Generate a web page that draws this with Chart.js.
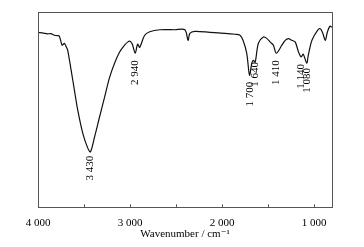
<!DOCTYPE html>
<html>
<head>
<meta charset="utf-8">
<script src="https://cdn.jsdelivr.net/npm/chart.js@4.4.0/dist/chart.umd.min.js"></script>
<style>
  html, body { margin: 0; padding: 0; background: #fff; }
  #wrap { width: 364px; height: 247px; }
</style>
</head>
<body>
<div id="wrap"><canvas id="myChart"></canvas></div>
<script>
// widmo IR
const wavenumbers = [4000, 3940, 3899, 3860, 3822, 3790, 3768, 3738, 3713, 3691, 3677, 3640, 3604, 3568, 3514, 3459, 3430, 3386, 3332, 3277, 3222, 3168, 3113, 3059, 3023, 3000, 2975, 2944, 2917, 2895, 2841, 2786, 2677, 2513, 2404, 2369, 2350, 2296, 2132, 1968, 1859, 1805, 1772, 1732, 1701, 1677, 1660, 1640, 1605, 1551, 1514, 1478, 1442, 1410, 1350, 1314, 1278, 1241, 1205, 1169, 1140, 1118, 1080, 1063, 1023, 962, 932, 905, 878, 856, 827, 805];
const transmittance = [89.6, 89.2, 88.8, 88.9, 88.1, 87.9, 87.6, 83.0, 84.0, 81.9, 80.4, 70.2, 59.9, 49.7, 38.0, 30.3, 28.4, 35.9, 46.1, 56.3, 66.5, 73.8, 79.5, 83.0, 84.7, 85.0, 83.5, 78.9, 83.5, 81.9, 88.1, 89.9, 90.9, 90.9, 90.9, 85.5, 89.1, 90.1, 89.6, 89.1, 88.6, 88.1, 85.5, 78.9, 67.6, 73.7, 75.3, 74.3, 84.0, 87.2, 86.5, 84.7, 83.0, 78.9, 83.0, 85.5, 86.4, 85.5, 84.7, 79.5, 77.0, 78.4, 73.8, 77.8, 85.5, 90.6, 91.4, 89.1, 85.5, 89.6, 92.7, 92.2];
const peakLabels = ['3 430', '2 940', '1 700', '1 640', '1 410', '1 140', '1 080'];
const peakPositions = [3430, 2940, 1700, 1640, 1410, 1140, 1080];
const peakLabelLevels = [20, 69, 58, 68, 69, 67, 65];
const tickValues = [1000, 1500, 2000, 2500, 3000, 3500, 4000];

const serif = '"Liberation Serif", "DejaVu Serif", serif';

// ramka, wewnętrzne kreski osi i opisy pików
const decorations = {
  id: 'decorations',
  afterDatasetsDraw(chart) {
    const ctx = chart.ctx;
    const a = chart.chartArea;
    const xs = chart.scales.x;
    const ys = chart.scales.y;
    ctx.save();
    ctx.strokeStyle = '#555';
    ctx.lineWidth = 1;
    ctx.strokeRect(Math.round(a.left) + 0.5, Math.round(a.top) + 0.5, Math.round(a.right - a.left), Math.round(a.bottom - a.top));
    tickValues.forEach(v => {
      const px = Math.round(xs.getPixelForValue(v)) + 0.5;
      ctx.beginPath();
      ctx.moveTo(px, a.bottom);
      ctx.lineTo(px, a.bottom - 3);
      ctx.stroke();
    });
    ctx.fillStyle = '#000';
    ctx.font = '11px ' + serif;
    ctx.textAlign = 'center';
    ctx.textBaseline = 'middle';
    peakLabels.forEach((t, i) => {
      const px = xs.getPixelForValue(peakPositions[i]);
      const py = ys.getPixelForValue(peakLabelLevels[i]);
      ctx.save();
      ctx.translate(px, py);
      ctx.rotate(-Math.PI / 2);
      ctx.fillText(t, 0, 0);
      ctx.restore();
    });
    ctx.restore();
  }
};

const ctx = document.getElementById('myChart').getContext('2d');
const chart = new Chart(ctx, {
  type: 'scatter',
  data: {
    datasets: [{
      data: wavenumbers.map((w, i) => ({ x: w, y: transmittance[i] })),
      showLine: true,
      borderColor: '#111',
      borderWidth: 1.2,
      pointRadius: 0,
      tension: 0.3
    }]
  },
  options: {
    responsive: true,
    maintainAspectRatio: false,
    animation: false,
    layout: { padding: { left: 38, right: 32, top: 12, bottom: 6.5 } },
    plugins: { legend: { display: false }, tooltip: { enabled: false } },
    scales: {
      x: {
        type: 'linear',
        reverse: true,
        min: 805,
        max: 4000,
        afterBuildTicks: axis => { axis.ticks = tickValues.map(v => ({ value: v })); },
        grid: { display: false, drawTicks: false },
        border: { display: false },
        ticks: {
          autoSkip: false,
          maxRotation: 0,
          padding: 9,
          color: '#000',
          font: { family: serif, size: 11 },
          callback: v => v % 1000 === 0 ? (v / 1000) + ' 000' : ''
        },
        title: {
          display: true,
          text: 'Wavenumber / cm⁻¹',
          color: '#000',
          font: { family: serif, size: 11 },
          padding: { top: -11.2, bottom: 0 }
        }
      },
      y: {
        display: false,
        min: 0,
        max: 100
      }
    }
  },
  plugins: [decorations]
});
</script>
</body>
</html>
